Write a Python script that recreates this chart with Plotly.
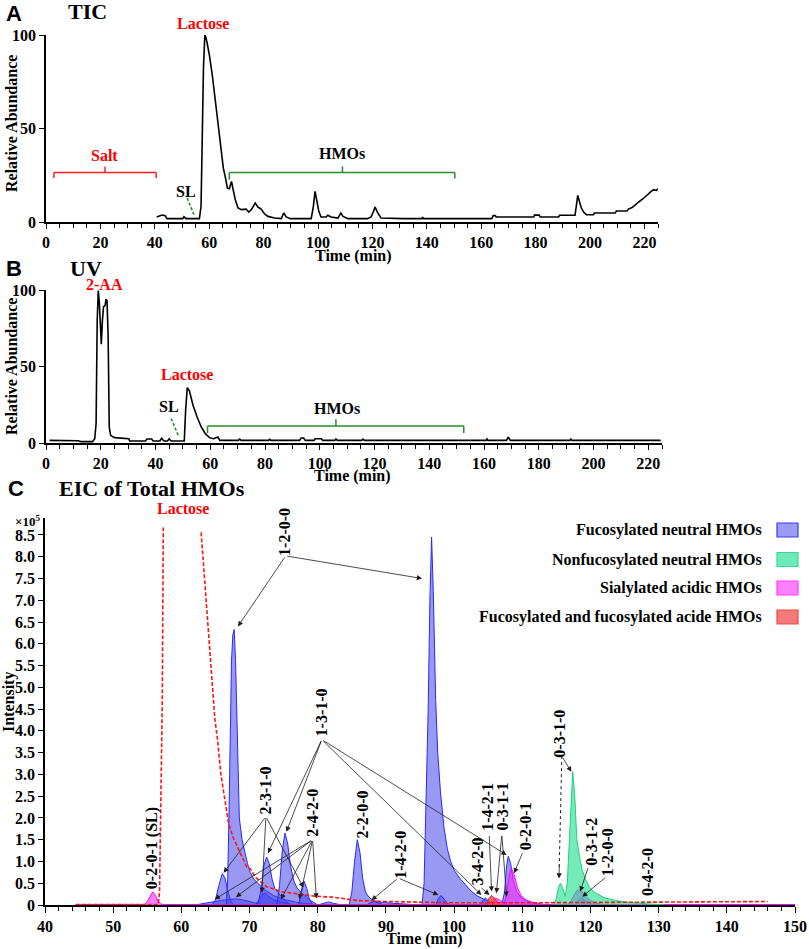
import plotly.graph_objects as go

W, H = 809, 949
SERIF = "Liberation Serif"
SANS = "Liberation Sans"


def px(x):
    return x / W


def py(y):
    return 1 - y / H


# ---------------- Panel A: TIC ----------------
tic_time = [40.7, 41.7, 42.7, 43.8, 44.5, 50.3, 50.7, 51.5, 56.4, 57.0, 57.5, 57.9, 58.4, 58.7,
            59.2, 60.1, 61.1, 62.2, 63.3, 64.4, 65.2, 66.0, 66.7, 67.4, 68.2, 68.8, 69.6, 70.6,
            71.8, 73.6, 74.5, 75.5, 76.9, 77.9, 79.1, 80.3, 81.6, 84.0, 86.5, 87.4, 88.3, 89.8,
            97.5, 98.3, 98.9, 99.5, 100.3, 101.1, 103.0, 103.6, 104.8, 107.3, 108.4, 109.2, 111.0,
            118.2, 119.5, 120.4, 121.0, 122.0, 123.2, 131.2, 138.2, 138.5, 138.8, 163.9, 164.4,
            165.2, 165.5, 179.3, 179.6, 181.3, 181.7, 188.5, 188.8, 194.5, 195.0, 195.5, 196.1,
            196.8, 197.7, 198.7, 201.3, 201.6, 209.3, 209.7, 213.6, 214.1, 215.5, 216.7, 217.9,
            219.4, 221.0, 222.5, 223.4, 224.4, 225.0]
tic_abund = [2.7, 3.0, 3.7, 3.4, 1.8, 1.8, 2.8, 1.8, 1.8, 8.4, 56, 83, 100, 99,
             96, 89, 79, 65, 51, 38.6, 28.8, 23.5, 18.1, 17.8, 21.7, 17.3, 11.9, 7.5,
             6.6, 6.9, 5.3, 6.6, 10.1, 8.0, 6.9, 4.4, 3.0, 2.1, 1.8, 4.8, 2.7, 1.8,
             1.8, 8.4, 16.4, 11.9, 5.7, 2.7, 2.7, 3.6, 2.7, 2.1, 4.8, 3.0, 1.8,
             1.8, 2.7, 5.7, 8.0, 4.8, 2.1, 1.8, 1.8, 2.6, 1.8, 1.8, 3.4,
             3.4, 2.7, 2.7, 3.7, 3.7, 2.7, 2.7, 3.6, 3.6, 8.4, 14.2, 11.0,
             7.5, 5.2, 3.9, 3.9, 4.8, 4.8, 5.9, 5.9, 6.9, 7.7, 9.3, 10.7,
             12.3, 14.6, 16.4, 17.3, 16.9, 17.8]

# ---------------- Panel B: UV ----------------
uv_time = [1.3, 11.7, 12.7, 17.0, 17.8, 18.3, 18.7, 19.1, 19.5, 19.8, 20.2, 20.6, 21.0, 21.6,
           21.9, 22.3, 22.7, 23.1, 23.6, 25.0, 30.2, 30.6, 36.3, 36.9, 38.6, 39.1, 41.6, 42.2,
           43.1, 44.4, 45.0, 45.7, 50.5, 51.0, 51.6, 52.4, 53.7, 55.2, 56.7, 58.2, 59.7, 61.2,
           62.0, 62.8, 63.5, 70.3, 70.7, 71.3, 81.3, 81.7, 82.2, 92.6, 93.2, 94.1, 94.7, 97.9,
           98.3, 100.6, 101.1, 105.5, 105.9, 106.4, 115.3, 115.7, 116.3, 160.7, 161.1, 161.4,
           168.2, 168.8, 169.6, 191.3, 191.7, 192.1, 224.5]
uv_abund = [1.7, 1.5, 0.9, 0.9, 2.8, 12.7, 80, 99.6, 91, 74, 64.6, 80, 89, 90,
            94, 93, 69, 10.5, 5.0, 3.5, 2.8, 1.3, 1.3, 2.6, 2.6, 1.3, 1.3, 3.1,
            1.3, 1.3, 2.8, 1.3, 1.3, 21.4, 36.2, 34.0, 24.7, 17.0, 10.5, 6.1, 3.5, 2.8,
            3.5, 3.9, 1.7, 1.7, 2.6, 1.7, 1.7, 2.4, 1.7, 1.7, 3.3, 3.3, 1.7, 1.7,
            2.8, 2.8, 1.7, 1.7, 2.6, 1.7, 1.7, 2.6, 1.7, 1.7, 2.6, 1.7,
            1.7, 3.9, 1.7, 1.7, 2.6, 1.7, 1.7]

# ---------------- Panel C: EIC (x10^5) ----------------
# Fucosylated neutral HMOs
fn_66_t = [64.5, 65.0, 65.5, 66.0, 66.4, 66.8, 67.2, 67.6]
fn_66_i = [0, 0.12, 0.45, 0.72, 0.62, 0.32, 0.12, 0]
fn_68_t = [66.6, 66.8, 67.0, 67.15, 67.35, 67.55, 67.75, 67.95, 68.15, 68.3, 68.5, 68.9, 69.3,
           69.7, 70.1, 70.6, 71.2, 71.8, 72.5, 73.5, 75.0, 77.0, 80.0]
fn_68_i = [0, 0.6, 2.2, 4.3, 5.6, 6.2, 6.33, 5.6, 4.5, 3.2, 2.0, 1.5, 1.2,
           0.95, 0.75, 0.6, 0.5, 0.42, 0.32, 0.22, 0.13, 0.06, 0]
fn_hump_t = [62, 63, 64, 65, 66, 67, 68, 69, 70, 71, 72]
fn_hump_i = [0, 0.03, 0.06, 0.09, 0.11, 0.13, 0.14, 0.12, 0.08, 0.04, 0]
fn_72s_t = [70.8, 71.4, 71.9, 72.3, 72.8, 73.5, 74.5, 75.5, 76.5]
fn_72s_i = [0, 0.12, 0.25, 0.27, 0.2, 0.12, 0.07, 0.04, 0]
fn_72_t = [71.2, 71.7, 72.1, 72.5, 72.9, 73.3, 73.7, 74.1, 74.6, 75.2, 76.0]
fn_72_i = [0, 0.35, 0.9, 1.1, 0.95, 0.6, 0.38, 0.3, 0.2, 0.1, 0]
fn_75_t = [74.0, 74.4, 74.8, 75.2, 75.6, 76.0, 76.5, 77.0, 77.5, 78.2, 79.0, 80.0]
fn_75_i = [0, 0.45, 1.25, 1.65, 1.4, 0.9, 0.55, 0.38, 0.3, 0.2, 0.1, 0]
fn_78_t = [77.2, 77.6, 78.0, 78.4, 78.8, 79.3]
fn_78_i = [0, 0.3, 0.55, 0.38, 0.12, 0]
fn_81_t = [80.0, 81.0, 81.6, 82.3, 83.5]
fn_81_i = [0, 0.04, 0.07, 0.04, 0]
fn_86_t = [84.6, 85.0, 85.4, 85.8, 86.2, 86.6, 87.0, 87.5, 88.2, 89.5, 91.0, 93.0, 95.0]
fn_86_i = [0, 0.3, 1.0, 1.5, 1.2, 0.6, 0.3, 0.18, 0.1, 0.06, 0.04, 0.02, 0]
fn_88_t = [87.2, 87.8, 88.3, 89.0, 89.8]
fn_88_i = [0, 0.06, 0.08, 0.05, 0]
fn_97_t = [95.3, 95.6, 95.9, 96.2, 96.45, 96.7, 96.95, 97.3, 97.6, 98.0, 98.5, 99.0, 99.5,
           100.0, 100.8, 101.7, 102.5, 103.5, 104.5, 105.5, 106.0]
fn_97_i = [0, 0.5, 2.5, 4.5, 7.0, 8.45, 7.2, 4.7, 3.5, 2.6, 1.8, 1.3, 1.0,
           0.8, 0.62, 0.46, 0.32, 0.2, 0.13, 0.05, 0]
fn_98_t = [97.3, 97.7, 98.1, 98.5, 99.0, 99.4]
fn_98_i = [0, 0.15, 0.22, 0.15, 0.04, 0]
fn_104_t = [103.8, 104.3, 104.6, 105.0, 105.5]
fn_104_i = [0, 0.12, 0.16, 0.1, 0]
fn_108_t = [107.0, 107.4, 107.7, 107.95, 108.3, 108.7, 109.2, 110.0, 111.0, 112.0, 113.0]
fn_108_i = [0, 0.3, 0.9, 1.12, 0.95, 0.55, 0.3, 0.15, 0.08, 0.03, 0]
fn_119_t = [117.8, 118.3, 118.7, 119.2, 120.0, 121.0]
fn_119_i = [0, 0.12, 0.16, 0.1, 0.03, 0]

# Nonfucosylated neutral HMOs
nf_117_t = [114.6, 115.0, 115.3, 115.6, 115.9, 116.3, 116.6, 116.9, 117.2, 117.4, 117.7, 118.0,
            118.4, 118.8, 119.3, 119.8, 120.5, 121.2, 122.0, 123.2, 125.0, 127.0, 129.0, 131.0]
nf_117_i = [0, 0.15, 0.4, 0.5, 0.4, 0.2, 0.5, 1.6, 2.7, 3.06, 2.5, 1.5,
            1.1, 0.8, 0.58, 0.42, 0.3, 0.23, 0.17, 0.12, 0.07, 0.04, 0.02, 0]

# Sialylated acidic HMOs
sa_56_t = [44.5, 54.6, 55.0, 55.4, 55.8, 56.2, 56.6, 57.0, 57.5, 150.0]
sa_56_i = [0.012, 0.012, 0.08, 0.2, 0.3, 0.22, 0.08, 0.02, 0.012, 0.012]
sa_106_t = [105.0, 105.6, 106.1, 106.6, 107.2, 107.6]
sa_106_i = [0, 0.1, 0.16, 0.12, 0.05, 0]
sa_108_t = [107.3, 107.7, 108.1, 108.4, 108.8, 109.3, 109.8, 110.5, 111.5, 112.5, 113.5]
sa_108_i = [0, 0.25, 0.7, 0.85, 0.7, 0.4, 0.22, 0.12, 0.06, 0.03, 0]
sa_118_t = [116.5, 117.0, 117.5, 118.0, 118.3, 118.8, 119.3, 120.0, 121.0, 122.0]
sa_118_i = [0, 0.05, 0.2, 0.33, 0.35, 0.3, 0.2, 0.1, 0.04, 0]

# Fucosylated and fucosylated acidic HMOs
fa_105_t = [104.8, 105.1, 105.5, 105.9, 106.4, 106.8]
fa_105_i = [0, 0.15, 0.22, 0.15, 0.05, 0]

# Lactose (dashed)
lac_t = [44.5, 56.6, 56.8, 57.0, 57.2, 57.35, None, 62.9, 63.4, 63.9, 64.4, 64.9, 65.3, 65.8,
         66.4, 66.9, 67.6, 68.5, 69.6, 70.0, 70.3, 70.6, 71.0, 72.5, 74.9, 77.3, 79.7, 82.2,
         84.6, 86.0, 90.0, 95.0, 100.0, 110.0, 120.0, 130.0, 140.0, 146.0]
lac_i = [0.01, 0.01, 0.3, 2.4, 4.7, 8.67, None, 8.56, 7.5, 6.4, 5.3, 4.3, 3.8, 3.0,
         2.4, 1.9, 1.55, 1.25, 0.87, 0.84, 0.8, 0.7, 0.62, 0.42, 0.3, 0.25, 0.2, 0.18,
         0.14, 0.1, 0.08, 0.06, 0.05, 0.05, 0.06, 0.06, 0.07, 0.08]

# Peak labels (rotated)
c_label_text = ["1-2-0-0", "2-3-1-0", "1-3-1-0", "2-4-2-0", "2-2-0-0", "1-4-2-0", "3-4-2-0",
                "1-4-2-1", "0-3-1-1", "0-2-0-1", "0-3-1-0", "0-3-1-2", "1-2-0-0", "0-4-2-0",
                "0-2-0-1 (SL)"]
c_label_t = [75.2, 72.4, 80.6, 79.3, 86.5, 92.2, 103.5, 104.8, 107.1, 110.5, 115.5, 120.2,
             122.5, 128.4, 55.8]
c_label_v = [8.57, 2.63, 4.42, 2.12, 2.08, 1.15, 1.0, 2.25, 2.25, 1.8, 3.93, 1.45, 1.2, 0.75, 1.3]

# Arrows: tail -> head
arr_tail_t = [75.3, 75.3, 72.4, 72.4, 72.4, 80.6, 80.6, 80.6, 80.6, 79.25, 79.25, 79.25, 79.25,
              79.25, 91.8, 91.8, 103.8, 105.15, 107.0, 107.0, 110.1, 115.8, 119.7, 122.4]
arr_tail_v = [8.02, 8.02, 2.03, 2.03, 2.03, 3.8, 3.8, 3.8, 3.8, 1.5, 1.5, 1.5, 1.5,
              1.5, 0.62, 0.62, 0.42, 1.62, 1.62, 1.62, 1.22, 3.42, 0.88, 0.66]
arr_head_t = [68.3, 95.3, 66.2, 71.8, 77.9, 72.7, 75.4, 107.7, 104.0, 64.9, 68.0, 74.6, 77.3,
              79.8, 87.9, 97.7, 105.2, 105.5, 106.2, 107.7, 108.8, 117.2, 118.5, 118.8]
arr_head_v = [6.4, 7.5, 0.74, 0.28, 0.4, 1.19, 1.68, 1.15, 0.23, 0.13, 0.18, 0.13, 0.13,
              0.15, 0.11, 0.23, 0.23, 0.31, 0.27, 0.19, 0.73, 3.06, 0.31, 0.19]
dot_tail = (115.8, 3.42)
dot_head = (115.4, 0.61)

legend_names = ["Fucosylated neutral HMOs", "Nonfucosylated neutral HMOs",
                "Sialylated acidic HMOs", "Fucosylated and fucosylated acide HMOs"]

ab_xtick_vals = [0, 20, 40, 60, 80, 100, 120, 140, 160, 180, 200, 220]
ab_ytick_vals = [0, 50, 100]
c_xtick_vals = [40, 50, 60, 70, 80, 90, 100, 110, 120, 130, 140, 150]
c_ytick_vals = [0, 0.5, 1.0, 1.5, 2.0, 2.5, 3.0, 3.5, 4.0, 4.5, 5.0, 5.5, 6.0, 6.5, 7.0, 7.5, 8.0, 8.5]
c_ytick_text = ["0", "0.5", "1.0", "1.5", "2.0", "2.5", "3.0", "3.5", "4.0", "4.5", "5.0", "5.5",
                "6.0", "6.5", "7.0", "7.5", "8.0", "8.5"]

# ---------------- styles ----------------
BLUE_FILL, BLUE_LINE = "rgba(70,70,235,0.55)", "rgb(40,40,255)"
GREEN_FILL, GREEN_LINE = "rgba(30,222,140,0.62)", "rgb(30,210,130)"
PINK_FILL, PINK_LINE = "rgba(255,40,255,0.6)", "rgb(255,0,255)"
RED_FILL, RED_LINE = "rgba(240,60,60,0.75)", "rgb(240,40,40)"
DKGREEN = "rgb(40,140,40)"

fig = go.Figure()

fig.add_trace(go.Scatter(x=tic_time, y=tic_abund, mode="lines", line=dict(color="black", width=1.6),
                         xaxis="x", yaxis="y", showlegend=False, hoverinfo="skip"))
fig.add_trace(go.Scatter(x=uv_time, y=uv_abund, mode="lines", line=dict(color="black", width=1.6),
                         xaxis="x2", yaxis="y2", showlegend=False, hoverinfo="skip"))

blue_sets = [(fn_hump_t, fn_hump_i), (fn_66_t, fn_66_i), (fn_68_t, fn_68_i), (fn_72s_t, fn_72s_i),
             (fn_72_t, fn_72_i), (fn_75_t, fn_75_i), (fn_78_t, fn_78_i), (fn_81_t, fn_81_i),
             (fn_86_t, fn_86_i), (fn_88_t, fn_88_i), (fn_97_t, fn_97_i), (fn_98_t, fn_98_i),
             (fn_104_t, fn_104_i), (fn_108_t, fn_108_i), (fn_119_t, fn_119_i)]
for xs, ys in blue_sets:
    fig.add_trace(go.Scatter(x=xs, y=ys, mode="lines", fill="tozeroy", fillcolor=BLUE_FILL,
                             line=dict(color=BLUE_LINE, width=1), xaxis="x3", yaxis="y3",
                             showlegend=False, hoverinfo="skip"))
pink_sets = [(sa_56_t, sa_56_i), (sa_106_t, sa_106_i), (sa_108_t, sa_108_i), (sa_118_t, sa_118_i)]
for xs, ys in pink_sets:
    fig.add_trace(go.Scatter(x=xs, y=ys, mode="lines", fill="tozeroy", fillcolor=PINK_FILL,
                             line=dict(color=PINK_LINE, width=1), xaxis="x3", yaxis="y3",
                             showlegend=False, hoverinfo="skip"))
fig.add_trace(go.Scatter(x=nf_117_t, y=nf_117_i, mode="lines", fill="tozeroy", fillcolor=GREEN_FILL,
                         line=dict(color=GREEN_LINE, width=1), xaxis="x3", yaxis="y3",
                         showlegend=False, hoverinfo="skip"))
fig.add_trace(go.Scatter(x=fa_105_t, y=fa_105_i, mode="lines", fill="tozeroy", fillcolor=RED_FILL,
                         line=dict(color=RED_LINE, width=1), xaxis="x3", yaxis="y3",
                         showlegend=False, hoverinfo="skip"))
fig.add_trace(go.Scatter(x=lac_t, y=lac_i, mode="lines", connectgaps=False,
                         line=dict(color="rgb(255,20,20)", width=1.6, dash="4px,2px"),
                         xaxis="x3", yaxis="y3", showlegend=False, hoverinfo="skip"))

TICK_SIZE = 16
tickfont = dict(family=SERIF, size=TICK_SIZE, color="black", weight="bold")
axis_common = dict(showline=True, linecolor="black", linewidth=1.6, ticks="outside",
                   tickcolor="black", tickwidth=1.3, showgrid=False, zeroline=False,
                   tickfont=tickfont, fixedrange=True, automargin=False)
minor_ab = dict(dtick=5, ticklen=4, ticks="outside", tickcolor="black", tickwidth=1.2)
minor_c = dict(dtick=2, ticklen=4, ticks="outside", tickcolor="black", tickwidth=1.2)

fig.update_layout(
    width=W, height=H, margin=dict(l=0, r=0, t=0, b=0, pad=0, autoexpand=False),
    paper_bgcolor="white", plot_bgcolor="white", showlegend=False,
    xaxis=dict(domain=[px(46), px(658)], range=[0, 225], tickvals=ab_xtick_vals,
               ticklen=5, minor=minor_ab, anchor="y", **axis_common),
    yaxis=dict(domain=[py(222), py(35)], range=[0, 100], tickvals=ab_ytick_vals, ticklen=5,
               anchor="x", **axis_common),
    xaxis2=dict(domain=[px(46), px(662)], range=[0, 225], tickvals=ab_xtick_vals,
                ticklen=5, minor=minor_ab, anchor="y2", **axis_common),
    yaxis2=dict(domain=[py(443), py(290)], range=[0, 100], tickvals=ab_ytick_vals, ticklen=5,
                anchor="x2", **axis_common),
    xaxis3=dict(domain=[px(45), px(795)], range=[40, 150], tickvals=c_xtick_vals,
                ticklen=6, minor=minor_c, anchor="y3", **axis_common),
    yaxis3=dict(domain=[py(905), py(518)], range=[0, 8.89], tickvals=c_ytick_vals,
                ticktext=c_ytick_text, ticklen=5, anchor="x3", **axis_common),
)

ann = []
shapes = []


def txt(x, y, s, size=16, color="black", family=SERIF, xref="paper", yref="paper", angle=0,
        xanchor="center", yanchor="middle"):
    ann.append(dict(x=x, y=y, xref=xref, yref=yref, text=s, showarrow=False, textangle=angle,
                    xanchor=xanchor, yanchor=yanchor,
                    font=dict(family=family, size=size, color=color, weight="bold")))


# Headers
txt(px(14), py(13), "A", size=22, family=SANS)
txt(px(87), py(12), "TIC", size=22)
txt(px(14), py(268), "B", size=22, family=SANS)
txt(px(86), py(268), "UV", size=22)
txt(px(16), py(488), "C", size=22, family=SANS)
txt(px(152), py(488), "EIC of Total HMOs", size=22)

# Axis titles
txt(px(12), py(124), "Relative Abundance", size=16, angle=-90)
txt(px(12), py(367), "Relative Abundance", size=16, angle=-90)
txt(px(9), py(702), "Intensity", size=16, angle=-90)
txt(px(353), py(256), "Time (min)", size=16)
txt(px(352), py(476), "Time (min)", size=16)
txt(px(424), py(939), "Time (min)", size=16)
txt(px(27), py(521), "×10<sup>5</sup>", size=13)

# Panel A annotations
txt(px(203), py(23), "Lactose", color="red")
txt(21.5, 35.5, "Salt", color="red", xref="x", yref="y")
txt(109, 36.8, "HMOs", xref="x", yref="y")
txt(51.3, 16.5, "SL", xref="x", yref="y")
for (x0, y0, x1, y1) in [(2.9, 23.5, 2.9, 26.5), (2.9, 26.5, 40.5, 26.5), (40.5, 26.5, 40.5, 23.5),
                         (21.7, 26.5, 21.7, 29.7)]:
    shapes.append(dict(type="line", xref="x", yref="y", x0=x0, y0=y0, x1=x1, y1=y1,
                       line=dict(color="rgb(255,30,30)", width=1.5)))
for (x0, y0, x1, y1) in [(67.4, 22.6, 67.4, 26.5), (67.4, 26.5, 150.3, 26.5), (150.3, 26.5, 150.3, 23.3),
                         (109.0, 26.5, 109.0, 29.7)]:
    shapes.append(dict(type="line", xref="x", yref="y", x0=x0, y0=y0, x1=x1, y1=y1,
                       line=dict(color=DKGREEN, width=1.5)))
shapes.append(dict(type="line", xref="x", yref="y", x0=51.9, y0=12.8, x1=54.6, y1=3.2,
                   line=dict(color=DKGREEN, width=1.6, dash="3px,2px")))
ann.append(dict(x=55.0, y=2.1, ax=54.5, ay=3.8, xref="x", yref="y", axref="x", ayref="y", text="",
                showarrow=True, arrowhead=2, arrowsize=1.1, arrowwidth=1.4, arrowcolor=DKGREEN))

# Panel B annotations
txt(px(104), py(284), "2-AA", color="red")
txt(51.4, 45, "Lactose", color="red", xref="x2", yref="y2")
txt(106.2, 22.5, "HMOs", xref="x2", yref="y2")
txt(44.8, 23.6, "SL", xref="x2", yref="y2")
for (x0, y0, x1, y1) in [(59.0, 6.5, 59.0, 11.1), (59.0, 11.1, 152.6, 11.1), (152.6, 11.1, 152.6, 6.5),
                         (105.9, 11.1, 105.9, 15.5)]:
    shapes.append(dict(type="line", xref="x2", yref="y2", x0=x0, y0=y0, x1=x1, y1=y1,
                       line=dict(color=DKGREEN, width=1.5)))
shapes.append(dict(type="line", xref="x2", yref="y2", x0=45.7, y0=16, x1=48.5, y1=4.2,
                   line=dict(color=DKGREEN, width=1.6, dash="3px,2px")))
ann.append(dict(x=48.8, y=2.8, ax=48.4, ay=5.0, xref="x2", yref="y2", axref="x2", ayref="y2", text="",
                showarrow=True, arrowhead=2, arrowsize=1.1, arrowwidth=1.4, arrowcolor=DKGREEN))

# Panel C annotations
txt(px(183), py(508), "Lactose", color="red")
for s, t, v in zip(c_label_text, c_label_t, c_label_v):
    txt(t, v, s, size=16, xref="x3", yref="y3", angle=-90)
for tt, tv, ht, hv in zip(arr_tail_t, arr_tail_v, arr_head_t, arr_head_v):
    ann.append(dict(x=ht, y=hv, ax=tt, ay=tv, xref="x3", yref="y3", axref="x3", ayref="y3",
                    text="", showarrow=True, arrowhead=2, arrowsize=1.3, arrowwidth=0.8,
                    arrowcolor="rgb(30,30,30)", standoff=0, startstandoff=0))
shapes.append(dict(type="line", xref="x3", yref="y3", x0=dot_tail[0], y0=dot_tail[1],
                   x1=dot_head[0] + 0.02, y1=dot_head[1] + 0.25,
                   line=dict(color="rgb(30,30,30)", width=1, dash="dot")))
ann.append(dict(x=dot_head[0], y=dot_head[1], ax=dot_head[0] + 0.03, ay=dot_head[1] + 0.35,
                xref="x3", yref="y3", axref="x3", ayref="y3", text="", showarrow=True,
                arrowhead=2, arrowsize=1.3, arrowwidth=0.8, arrowcolor="rgb(30,30,30)"))

# Legend
leg_rows = [530, 559.5, 588, 617]
leg_fill = ["rgb(155,155,245)", "rgb(110,234,185)", "rgb(255,128,255)", "rgb(244,122,122)"]
leg_line = ["rgb(60,60,240)", "rgb(60,215,150)", "rgb(255,60,255)", "rgb(232,75,75)"]
for name, row, fc, lc in zip(legend_names, leg_rows, leg_fill, leg_line):
    shapes.append(dict(type="rect", xref="paper", yref="paper", x0=px(777), x1=px(798),
                       y0=py(row + 7), y1=py(row - 7), fillcolor=fc, line=dict(color=lc, width=1.2)))
    txt(px(764), py(row), name, size=16, xanchor="right")

fig.update_layout(annotations=ann, shapes=shapes)
fig.write_html("out.html", config={"displayModeBar": False},
               post_script="document.body.style.margin='0px';document.body.style.padding='0px';")
